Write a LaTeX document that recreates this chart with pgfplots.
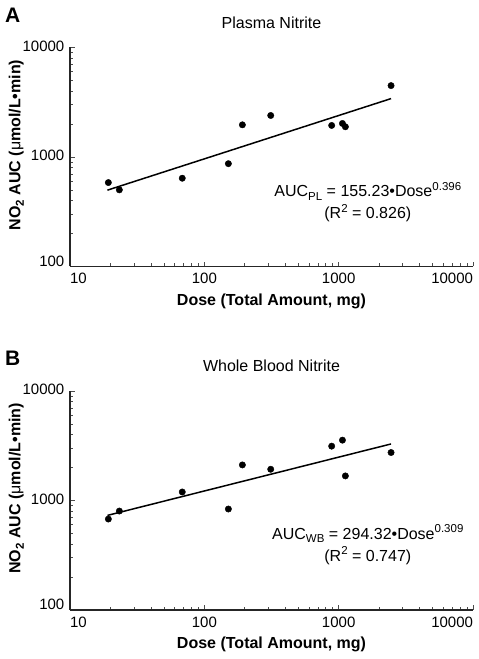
\documentclass[border=0pt]{standalone}
\usepackage{fontspec}
\setmainfont{Liberation Sans}
\usepackage{pgfplots}
\usepackage{pgfplotstable}
\pgfplotsset{compat=1.18}

\newcommand{\sups}[1]{\raisebox{0.42em}{\fontsize{11.5}{12}\selectfont #1}}
\newcommand{\subs}[1]{\raisebox{-0.22em}{\fontsize{11.5}{12}\selectfont #1}}
\newcommand{\yhundred}{\raisebox{4pt}{\smash{100}}\vphantom{100}}
\newcommand{\xten}{\makebox[0pt][l]{10}}
\newcommand{\xtenk}{\makebox[0pt][r]{10000}}

\pgfplotstableread{
dose auc
19.3 584
23.3 501
68.5 640
151 869
192 1967
312 2394
887 1942
1067 2024
1122 1887
2455 4486
}\plasma

\pgfplotstableread{
dose auc
19.3 677
23.3 801
68.5 1196
151 836
192 2113
312 1929
887 3135
1067 3557
1122 1677
2455 2742
}\blood

\begin{document}
\begin{tikzpicture}
\useasboundingbox (0,0) rectangle (479pt,659pt);

\begin{axis}[
  at={(70pt,392.5pt)}, anchor=south west,
  title={Plasma Nitrite},
  scale only axis, width=403pt, height=219pt,
  xmode=log, ymode=log, xmin=10, xmax=10000, ymin=100, ymax=10000,
  axis x line*=bottom, axis y line*=left,
  axis line style={black!85, line width=1.1pt, -},
  tick style={black!70, line width=0.7pt},
  tick align=inside,
  major tick length=5pt, minor tick length=3.5pt,
  xtick={10,100,1000,10000},
  xticklabels={\xten,100,1000,\xtenk},
  minor xtick={20,30,40,50,60,70,80,90,200,300,400,500,600,700,800,900,2000,3000,4000,5000,6000,7000,8000,9000},
  ytick={100,1000,10000},
  yticklabels={\yhundred,1000,10000},
  minor ytick={200,300,400,500,600,700,800,900,2000,3000,4000,5000,6000,7000,8000,9000},
  xticklabel style={font=\fontsize{15}{15}\selectfont, anchor=base, inner sep=0pt, yshift=-17.5pt},
  yticklabel style={font=\fontsize{15}{15}\selectfont, anchor=east, inner sep=0pt, xshift=-5.5pt, yshift=1.5pt},
  xlabel style={font=\bfseries\fontsize{16}{16}\selectfont, at={(axis description cs:0.5,0)}, anchor=base, yshift=-39pt},
  ylabel style={font=\bfseries\fontsize{16}{16}\selectfont, at={(axis description cs:-0.123,0.555)}, anchor=base},
  title style={font=\fontsize{16}{16}\selectfont, at={(axis description cs:0.5,1)}, anchor=base, yshift=13pt},
  xlabel={Dose (Total Amount, mg)},
  ylabel={NO\subs{2} AUC ({\mdseries μ}mol/L•min)},
  clip=false,
]
  \addplot[black, line width=1.5pt, no marks] coordinates {(19,498) (2455,3414)};
  \addplot[only marks, mark=*, mark size=3.2pt, black] table[x=dose, y=auc] {\plasma};
  \node[anchor=base, font=\fontsize{16}{16}\selectfont, inner sep=0pt] at (rel axis cs:0.739,0.318) {AUC\subs{PL} = 155.23•Dose\sups{0.396}};
  \node[anchor=base, font=\fontsize{16}{16}\selectfont, inner sep=0pt] at (rel axis cs:0.739,0.218) {(R\sups{2} = 0.826)};
\end{axis}

\begin{axis}[
  at={(70pt,49pt)}, anchor=south west,
  title={Whole Blood Nitrite},
  scale only axis, width=403pt, height=219pt,
  xmode=log, ymode=log, xmin=10, xmax=10000, ymin=100, ymax=10000,
  axis x line*=bottom, axis y line*=left,
  axis line style={black!85, line width=1.1pt, -},
  tick style={black!70, line width=0.7pt},
  tick align=inside,
  major tick length=5pt, minor tick length=3.5pt,
  xtick={10,100,1000,10000},
  xticklabels={\xten,100,1000,\xtenk},
  minor xtick={20,30,40,50,60,70,80,90,200,300,400,500,600,700,800,900,2000,3000,4000,5000,6000,7000,8000,9000},
  ytick={100,1000,10000},
  yticklabels={\yhundred,1000,10000},
  minor ytick={200,300,400,500,600,700,800,900,2000,3000,4000,5000,6000,7000,8000,9000},
  xticklabel style={font=\fontsize{15}{15}\selectfont, anchor=base, inner sep=0pt, yshift=-17.5pt},
  yticklabel style={font=\fontsize{15}{15}\selectfont, anchor=east, inner sep=0pt, xshift=-5.5pt, yshift=1.5pt},
  xlabel style={font=\bfseries\fontsize{16}{16}\selectfont, at={(axis description cs:0.5,0)}, anchor=base, yshift=-39pt},
  ylabel style={font=\bfseries\fontsize{16}{16}\selectfont, at={(axis description cs:-0.123,0.555)}, anchor=base},
  title style={font=\fontsize{16}{16}\selectfont, at={(axis description cs:0.5,1)}, anchor=base, yshift=13pt},
  xlabel={Dose (Total Amount, mg)},
  ylabel={NO\subs{2} AUC ({\mdseries μ}mol/L•min)},
  clip=false,
]
  \addplot[black, line width=1.5pt, no marks] coordinates {(19,731) (2455,3284)};
  \addplot[only marks, mark=*, mark size=3.2pt, black] table[x=dose, y=auc] {\blood};
  \node[anchor=base, font=\fontsize{16}{16}\selectfont, inner sep=0pt] at (rel axis cs:0.739,0.324) {AUC\subs{WB} = 294.32•Dose\sups{0.309}};
  \node[anchor=base, font=\fontsize{16}{16}\selectfont, inner sep=0pt] at (rel axis cs:0.739,0.221) {(R\sups{2} = 0.747)};
\end{axis}

\node[anchor=base west, inner sep=0pt, font=\bfseries\fontsize{21}{21}\selectfont] at (5pt,636.5pt) {A};
\node[anchor=base west, inner sep=0pt, font=\bfseries\fontsize{21}{21}\selectfont] at (5pt,293pt) {B};
\end{tikzpicture}
\end{document}
